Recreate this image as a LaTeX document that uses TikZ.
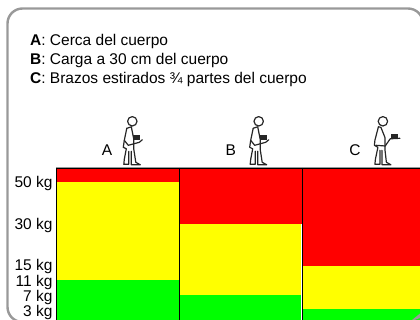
\documentclass[tikz,border=0pt]{standalone}
\usepackage{fontspec}
\setmainfont{Liberation Sans}
\definecolor{framegray}{HTML}{999999}
\definecolor{zred}{HTML}{FF0000}
\definecolor{zyellow}{HTML}{FFFF00}
\definecolor{zgreen}{HTML}{00FF00}
\tikzset{
  zone/.style={fill=#1,draw=none},
  divider/.style={draw=black,line width=1pt},
  info/.style={anchor=base west,inner sep=0pt,font=\fontsize{15.5}{18}\selectfont},
  kglabel/.style={anchor=base east,inner sep=0pt,font=\fontsize{15.5}{18}\selectfont},
  collabel/.style={anchor=base,inner sep=0pt,font=\fontsize{15.5}{18}\selectfont},
  figline/.style={draw=black!85,line width=1.2pt,line join=round,line cap=round},
  walker/.pic={
    \draw[figline] (0,0) circle (4.7);
    \draw[figline] (-5.5,7) -- (-8,19) -- (-9,26) -- (-6,27.5) -- (-8,38) -- (-8.5,43) -- (-3.5,43) -- (-3.5,30);
    \draw[figline] (-5.5,7) -- (-1,5.5) -- (1.5,18) -- (1.5,28) -- (3.5,41) -- (8,43.5) -- (-1,43.5) -- (-1,30) ;
    \draw[figline] (-8,19) -- (-4,24) -- (7,21) -- (10,18.5);
    \fill[black!85] (1,13.5) rectangle (8,19);
  },
  reacher/.pic={
    \draw[figline] (0,0) circle (4.7);
    \draw[figline] (-4.5,5.5) -- (-8,19) -- (-8.5,24) -- (-5,26) -- (-7.5,38) -- (-8,43) -- (-3,43) -- (-3,29);
    \draw[figline] (-4.5,5.5) -- (-2,6) -- (2,16) -- (2,28) -- (3.5,41) -- (8,43.5) -- (-1,43.5) -- (-1,29);
    \draw[figline] (-7,24) -- (2.3,24.7) -- (7.3,17.5) -- (17,17);
    \fill[black!85] (8.5,12.3) rectangle (15,17);
  }
}
\begin{document}
\begin{tikzpicture}[x=1pt,y=-1pt]
\useasboundingbox (0,0) rectangle (420,320);
\begin{scope}
\clip (0,0) rectangle (420,320);
\draw[framegray,line width=2.4pt,rounded corners=15pt] (7.5,8.5) rectangle (423,322);
\fill[zone=zred] (56,168) rectangle (179.5,182);
\fill[zone=zyellow] (56,182) rectangle (179.5,280);
\fill[zone=zgreen] (56,280) rectangle (179.5,320);
\fill[zone=zred] (179.5,168) rectangle (302,224);
\fill[zone=zyellow] (179.5,224) rectangle (301,295);
\fill[zone=zgreen] (179.5,295) rectangle (301,320);
\fill[zone=zred] (302,168) rectangle (420,266);
\fill[zone=zyellow] (302,266) rectangle (420,309);
\fill[zone=zgreen] (302,309) rectangle (420,320);
\draw[framegray,line width=1pt] (56,167.2) -- (420,167.2);
\draw[divider] (56,168.4) -- (420,168.4);
\draw[divider] (56,168) -- (56,320);
\draw[divider] (179.6,168) -- (179.6,320);
\draw[divider] (302.6,168) -- (302.6,320);
\fill[framegray] (420,313.5) -- (420,318) -- (414.5,320) -- (412,320) -- cycle;
\end{scope}
\node[info] (lineA) at (30,45.7) {\textbf{A}: Cerca del cuerpo};
\node[info] (lineB) at (30,65) {\textbf{B}: Carga a 30 cm del cuerpo};
\node[info] (lineC) at (30,84) {\textbf{C}: Brazos estirados ¾ partes del cuerpo};
\node[collabel] (colA) at (107,155.7) {A};
\node[collabel] (colB) at (230.7,155.7) {B};
\node[collabel] (colC) at (355,155.7) {C};
\pic at (132.3,121.3) {walker};
\pic at (258.7,121.3) {walker};
\pic at (382.9,121.3) {reacher};
\node[kglabel] (kg50) at (52.7,187.3) {50 kg};
\node[kglabel] (kg30) at (52.7,229.3) {30 kg};
\node[kglabel] (kg15) at (52.7,270.3) {15 kg};
\node[kglabel] (kg11) at (52.7,286.7) {11 kg};
\node[kglabel] (kg7) at (52.7,301.7) {7 kg};
\node[kglabel] (kg3) at (52.7,316) {3 kg};
\end{tikzpicture}
\end{document}
